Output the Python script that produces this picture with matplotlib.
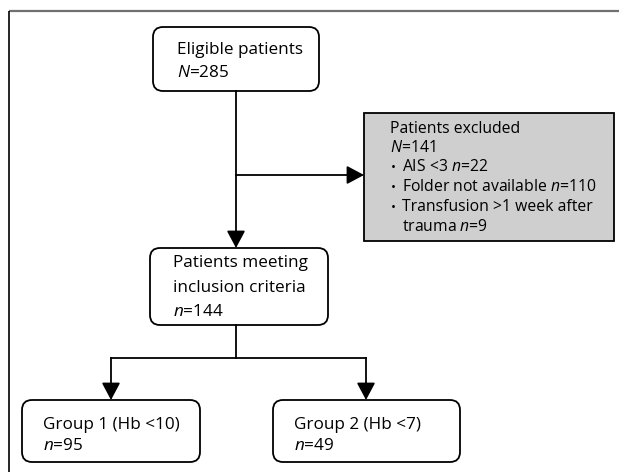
import matplotlib
matplotlib.use("Agg")
import matplotlib.pyplot as plt
from matplotlib.patches import FancyBboxPatch, Rectangle

plt.rcParams['font.family'] = ['Open Sans', 'DejaVu Sans']
plt.rcParams['mathtext.fontset'] = 'custom'
plt.rcParams['mathtext.rm'] = 'Open Sans'
plt.rcParams['mathtext.it'] = 'Open Sans:italic'

# flow counts
eligible_n = 285
excluded_n = 141
excl_reasons = ["AIS <3", "Folder not available", "Transfusion >1 week after\ntrauma"]
excl_counts = [22, 110, 9]
included_n = 144
group_labels = ["Group 1 (Hb <10)", "Group 2 (Hb <7)"]
group_counts = [95, 49]

fig = plt.figure(figsize=(6.19, 4.72), dpi=100)
ax = fig.add_axes([0, 0, 1, 1])
ax.set_xlim(0, 619)
ax.set_ylim(472, 0)
ax.axis('off')

# outer frame bits
ax.plot([9, 619], [11, 11], color='#707070', lw=1.6, solid_capstyle='butt')
ax.plot([9, 9], [11, 472], color='black', lw=1.2, solid_capstyle='butt')

lw = 1.3
fs = 12.3


def rbox(x0, y0, x1, y1):
    p = FancyBboxPatch((x0, y0), x1 - x0, y1 - y0,
                       boxstyle="round,pad=0,rounding_size=10",
                       fc='white', ec='black', lw=lw, zorder=2)
    ax.add_patch(p)


def arrow(x0, y0, x1, y1):
    ax.annotate("", xy=(x1, y1), xytext=(x0, y0),
                arrowprops=dict(arrowstyle="-|>,head_length=0.75,head_width=0.4",
                                color='black', lw=lw, shrinkA=0, shrinkB=0,
                                mutation_scale=14), zorder=3)


def lines(x, ys, texts, size=fs):
    for y, t in zip(ys, texts):
        ax.text(x, y, t, fontsize=size, va='center', ha='left', zorder=4)


# eligible
rbox(153, 27, 319, 91)
lines(177, [50, 73], ["Eligible patients", "$N$=%d" % eligible_n])

# main stem
ax.plot([236, 236], [91, 236], color='black', lw=lw)
arrow(236, 235, 236, 248)
ax.plot([236, 352], [175, 175], color='black', lw=lw)
arrow(351, 175, 364, 175)

# excluded box
ax.add_patch(Rectangle((364, 113), 250, 128, fc='#cfcfcf', ec='black', lw=lw, zorder=2))
fs2 = 11.3
lines(390, [129, 148], ["Patients excluded", "$N$=%d" % excluded_n], size=fs2)
ys = [167, 187, 207]
for y, r, c in zip(ys, excl_reasons, excl_counts):
    ax.text(391, y, "\u2022", fontsize=fs2 - 2, va='center', zorder=4)
    if "\n" in r:
        a, b = r.split("\n")
        lines(402, [y, y + 20], [a, b + " $n$=%d" % c], size=fs2)
    else:
        lines(402, [y], [r + " $n$=%d" % c], size=fs2)

# included
rbox(150, 248, 328, 325)
lines(173, [263, 288, 312], ["Patients meeting", "inclusion criteria", "$n$=%d" % included_n])

# split
ax.plot([236, 236], [325, 358], color='black', lw=lw)
gx = [111, 366]
ax.plot([gx[0], gx[1]], [358, 358], color='black', lw=lw)
boxes = [(22, 200), (273, 460)]
for cx, (bx0, bx1), lab, n in zip(gx, boxes, group_labels, group_counts):
    ax.plot([cx, cx], [358, 388], color='black', lw=lw)
    arrow(cx, 387, cx, 400)
    rbox(bx0, 400, bx1, 462)
    lines(bx0 + 21, [425, 446], [lab, "$n$=%d" % n])

fig.savefig("out.png", dpi=100)
